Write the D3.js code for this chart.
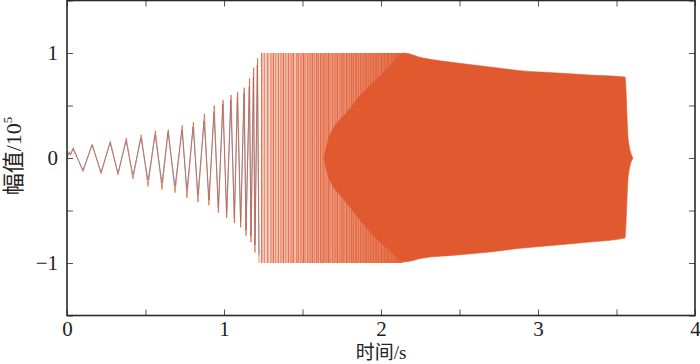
<!doctype html>
<html>
<head>
<meta charset="utf-8">
<script src="https://d3js.org/d3.v7.min.js"></script>
<style>
  body { margin: 0; background: #fff; }
  svg text { font-family: "Liberation Serif", "Noto Sans CJK SC", serif; fill: #222; }
</style>
</head>
<body>
<script>

  // x ticks (s) and y ticks (10^5)
  var xTicks = [0, 0.5, 1, 1.5, 2, 2.5, 3, 3.5, 4];
  var yTicks = [-1.5, -1, -0.5, 0, 0.5, 1, 1.5];

  // early part, blue trace : peaks / troughs
  var blueT = [0, 0.013, 0.022, 0.038, 0.102, 0.159, 0.217, 0.274, 0.325, 0.376, 0.420, 0.471, 0.516, 0.561, 0.605, 0.643, 0.688, 0.732, 0.764, 0.803, 0.834, 0.873, 0.904, 0.936, 0.964, 0.992, 1.017, 1.043, 1.066, 1.085, 1.106, 1.127, 1.140, 1.161, 1.172, 1.187, 1.197, 1.212, 1.223];
  var blueV = [0, 0.048, 0.029, 0.086, -0.114, 0.124, -0.133, 0.143, -0.143, 0.162, -0.162, 0.190, -0.210, 0.219, -0.238, 0.248, -0.267, 0.267, -0.305, 0.295, -0.352, 0.352, -0.40, 0.438, -0.476, 0.514, -0.524, 0.552, -0.571, 0.581, -0.610, 0.619, -0.686, 0.676, -0.743, 0.771, -0.829, 0.886, -0.924];

  // early part, orange trace
  var orangeT = [0, 0.013, 0.022, 0.040, 0.102, 0.161, 0.217, 0.276, 0.325, 0.378, 0.420, 0.473, 0.516, 0.563, 0.605, 0.645, 0.688, 0.734, 0.764, 0.805, 0.834, 0.875, 0.904, 0.938, 0.964, 0.994, 1.017, 1.045, 1.066, 1.087, 1.106, 1.129, 1.140, 1.163, 1.172, 1.189, 1.197, 1.214, 1.223];
  var orangeV = [0, 0.06, 0.03, 0.10, -0.13, 0.13, -0.15, 0.16, -0.16, 0.19, -0.20, 0.22, -0.27, 0.26, -0.30, 0.27, -0.33, 0.31, -0.38, 0.34, -0.42, 0.42, -0.45, 0.50, -0.52, 0.55, -0.57, 0.60, -0.62, 0.63, -0.66, 0.67, -0.74, 0.76, -0.80, 0.86, -0.90, 0.95, -1.0];

  // dense swings hitting +/-1 (times of each visible stroke)
  var streakT = [1.240, 1.257, 1.278, 1.299, 1.314, 1.329, 1.346, 1.363, 1.378, 1.393, 1.410, 1.427, 1.441, 1.463, 1.473, 1.490, 1.505, 1.516, 1.533, 1.548, 1.562, 1.575, 1.590, 1.601, 1.616, 1.629, 1.637, 1.650, 1.664, 1.675, 1.692, 1.707, 1.722, 1.739, 1.752, 1.764, 1.782, 1.798, 1.813, 1.824, 1.841, 1.856, 1.871, 1.887, 1.904, 1.919, 1.934, 1.951, 1.968, 1.983, 2.004, 2.025, 2.046, 2.068, 2.089, 2.110, 2.130];
  var streakTop = 1, streakBottom = -1;

  // envelope of the solid part
  var envT = [1.637, 1.660, 1.700, 1.750, 1.803, 1.866, 1.930, 1.994, 2.057, 2.110, 2.140, 2.268, 2.484, 2.694, 2.904, 3.121, 3.331, 3.554, 3.575, 3.605];
  var envUp = [0, 0.15, 0.29, 0.38, 0.47, 0.59, 0.69, 0.78, 0.88, 0.96, 1.0, 0.952, 0.905, 0.867, 0.829, 0.81, 0.79, 0.771, 0.17, 0];
  var envLo = [0, -0.15, -0.28, -0.37, -0.47, -0.59, -0.70, -0.80, -0.88, -0.96, -0.99, -0.952, -0.924, -0.895, -0.857, -0.829, -0.8, -0.762, -0.17, 0];

  var orange = "#E0592F";
  var blue = "#3F78AC";

  var width = 700, height = 364;
  var x = d3.scaleLinear().domain([0, 4]).range([67, 695]);
  var y = d3.scaleLinear().domain([-1.5, 1.5]).range([315.5, 0.5]);

  var svg = d3.select("body").append("svg").attr("width", width).attr("height", height);

  var defs = svg.append("defs");
  defs.append("clipPath").attr("id", "clip")
    .append("rect").attr("x", 67).attr("y", 0.5).attr("width", 628).attr("height", 315);
  var grad = defs.append("linearGradient").attr("id", "band")
    .attr("gradientUnits", "userSpaceOnUse")
    .attr("x1", x(streakT[0])).attr("x2", x(streakT[streakT.length - 1])).attr("y1", 0).attr("y2", 0);
  grad.append("stop").attr("offset", "0%").attr("stop-color", orange).attr("stop-opacity", 0.25);
  grad.append("stop").attr("offset", "40%").attr("stop-color", orange).attr("stop-opacity", 0.5);
  grad.append("stop").attr("offset", "100%").attr("stop-color", orange).attr("stop-opacity", 0.9);

  var plot = svg.append("g").attr("clip-path", "url(#clip)");

  // light band behind the dense strokes
  plot.append("rect")
    .attr("x", x(streakT[0])).attr("y", y(streakTop))
    .attr("width", x(streakT[streakT.length - 1]) - x(streakT[0]) + 1)
    .attr("height", y(streakBottom) - y(streakTop))
    .attr("fill", "url(#band)");

  var line = d3.line().x(function(d){ return x(d[0]); }).y(function(d){ return y(d[1]); });

  plot.append("path")
    .attr("d", line(d3.zip(blueT, blueV)))
    .attr("fill", "none").attr("stroke", blue).attr("stroke-width", 1).attr("opacity", 0.7);
  plot.append("path")
    .attr("d", line(d3.zip(orangeT, orangeV)))
    .attr("fill", "none").attr("stroke", orange).attr("stroke-width", 1).attr("opacity", 0.7);

  var alpha = [0.95, 0.6, 0.8, 0.7];
  plot.selectAll(".streak").data(streakT).enter().append("line")
    .attr("class", "streak")
    .attr("x1", function(d){ return x(d); }).attr("x2", function(d){ return x(d); })
    .attr("y1", y(streakTop)).attr("y2", y(streakBottom))
    .attr("stroke", orange).attr("stroke-width", 1.1)
    .attr("opacity", function(d, i){ return alpha[i % 4]; });

  var area = d3.area()
    .curve(d3.curveMonotoneX)
    .x(function(d){ return x(d[0]); })
    .y0(function(d){ return y(d[2]); })
    .y1(function(d){ return y(d[1]); });
  plot.append("path")
    .attr("d", area(d3.zip(envT, envUp, envLo)))
    .attr("fill", orange).attr("stroke", orange).attr("stroke-width", 0.6);

  // axes, ticks inward on all sides
  var fmt = function(d){ return Number.isInteger(d) ? d3.format("d")(d) : ""; };
  var ax = svg.append("g").attr("class", "axes");
  ax.append("g").attr("transform", "translate(0,315.5)")
    .call(d3.axisBottom(x).tickValues(xTicks).tickSize(-6).tickPadding(6).tickFormat(fmt));
  ax.append("g").attr("transform", "translate(0,0.5)")
    .call(d3.axisTop(x).tickValues(xTicks).tickSize(-6).tickFormat(""));
  ax.append("g").attr("transform", "translate(67,0)")
    .call(d3.axisLeft(y).tickValues(yTicks).tickSize(-6).tickPadding(9).tickFormat(fmt));
  ax.append("g").attr("transform", "translate(695,0)")
    .call(d3.axisRight(y).tickValues(yTicks).tickSize(-6).tickFormat(""));
  ax.selectAll(".domain").remove();
  ax.selectAll(".tick line").attr("stroke", "#555");
  ax.selectAll(".tick text").style("font-size", "21px").attr("fill", "#222");

  svg.append("rect")
    .attr("x", 67).attr("y", 0.5).attr("width", 628).attr("height", 315)
    .attr("fill", "none").attr("stroke", "#2a2a2a").attr("stroke-width", 1.6);

  // axis titles
  svg.append("text")
    .attr("x", 381).attr("y", 359)
    .attr("text-anchor", "middle")
    .style("font-size", "19px")
    .text("时间/s");

  var yl = svg.append("text")
    .attr("transform", "translate(21,156) rotate(-90)")
    .attr("text-anchor", "middle")
    .style("font-size", "22px");
  yl.append("tspan").text("幅值/10");
  yl.append("tspan").attr("dy", -9).style("font-size", "13px").text("5");

</script>
</body>
</html>
